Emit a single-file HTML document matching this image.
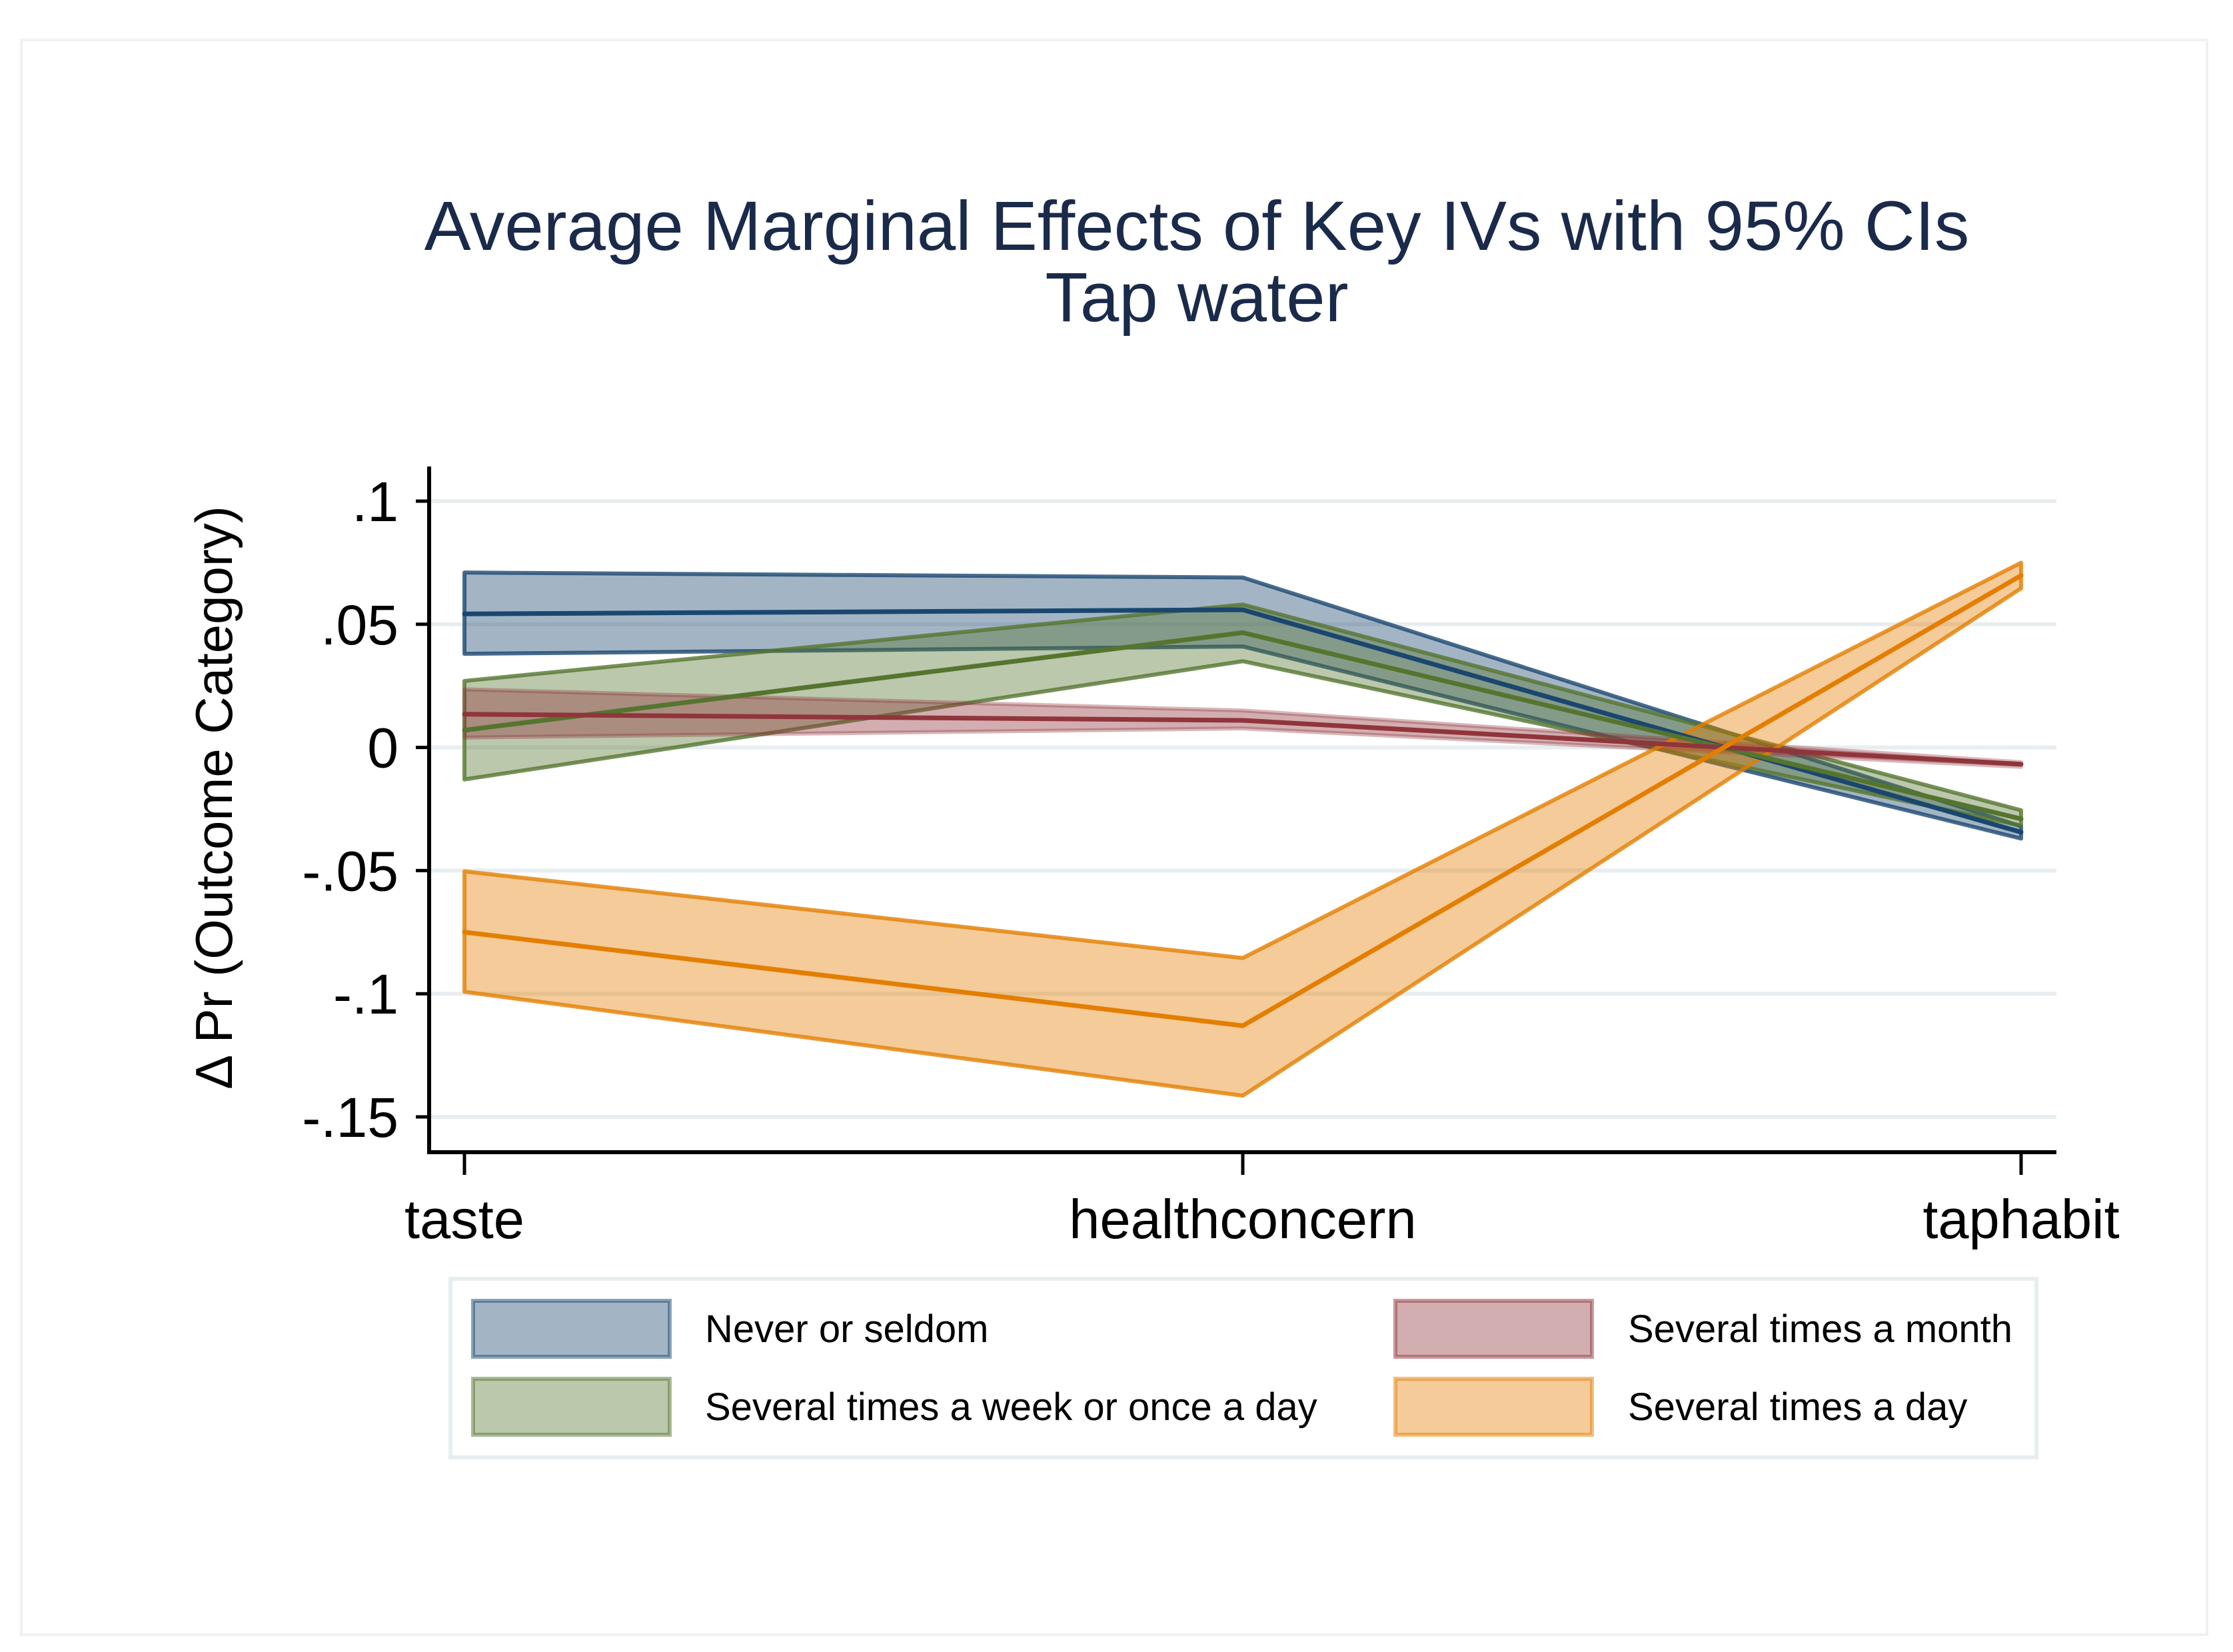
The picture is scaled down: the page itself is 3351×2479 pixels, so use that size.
<!DOCTYPE html>
<html><head><meta charset="utf-8"><style>
html,body{margin:0;padding:0;background:#fff;}
svg{display:block;font-family:"Liberation Sans",Arial,sans-serif;}
</style></head><body>
<svg id="chart" width="3351" height="2479" viewBox="0 0 3351 2479" xmlns="http://www.w3.org/2000/svg">
<rect x="0" y="0" width="3351" height="2479" fill="#fff"/>
<rect x="32" y="60" width="3280" height="2393" fill="none" stroke="#eef2f2" stroke-width="4"/>
<text x="1796" y="375" text-anchor="middle" font-size="105" fill="#1a2a4a">Average Marginal Effects of Key IVs with 95% CIs</text>
<text x="1796" y="482" text-anchor="middle" font-size="105" fill="#1a2a4a">Tap water</text>
<text transform="translate(348,1197) rotate(-90)" text-anchor="middle" font-size="78" fill="#000">Δ  Pr (Outcome Category)</text>
<g id="grid"></g><g id="bands"></g><g id="axes"></g>
<g>
<rect x="676" y="1919" width="2380" height="268" fill="#fff" stroke="#e8eef0" stroke-width="6"/>
<g id="legend-items"></g>
</g>
</svg>
<script>
const categories = ["taste","healthconcern","taphabit"];
const yTicks = [0.1,0.05,0,-0.05,-0.1,-0.15];
const yTickLabels = [".1",".05","0","-.05","-.1","-.15"];
const seriesNames = ["Never or seldom","Several times a month","Several times a week or once a day","Several times a day"];
const seriesColors = ["#1a476f","#90353b","#55752f","#e37e00"];
const neverMean = [0.0542,0.0559,-0.0344];
const neverLo = [0.038,0.041,-0.037];
const neverHi = [0.071,0.069,-0.032];
const monthMean = [0.0135,0.011,-0.0068];
const monthLo = [0.004,0.0077,-0.0079];
const monthHi = [0.0236,0.015,-0.006];
const weekMean = [0.007,0.0466,-0.029];
const weekLo = [-0.013,0.035,-0.0317];
const weekHi = [0.027,0.058,-0.0255];
const dayMean = [-0.075,-0.113,0.0698];
const dayLo = [-0.0992,-0.1414,0.0646];
const dayHi = [-0.0503,-0.0855,0.075];

const NS="http://www.w3.org/2000/svg";
const X0=644, X1=3086, Y0=700, Y1=1729;
const XA=697, XB=3033;
function xs(i){return XA+(XB-XA)*i/(categories.length-1);}
function ys(v){return 1121.6-v*3696;}
function mk(tag,attrs,parent){const e=document.createElementNS(NS,tag);for(const k in attrs)e.setAttribute(k,attrs[k]);parent.appendChild(e);return e;}
const grid=document.getElementById('grid'), axes=document.getElementById('axes'), bands=document.getElementById('bands');
yTicks.forEach((t,i)=>{
  const g=mk('line',{x1:X0,x2:X1,y1:ys(t),y2:ys(t),stroke:'#e8eef0','stroke-width':6},grid);
  
  
  const tk=mk('line',{x1:X0-20,x2:X0,y1:ys(t),y2:ys(t),stroke:'#000','stroke-width':5},axes);
  
  
  const tx=mk('text',{x:X0-46,y:ys(t)+30,'text-anchor':'end','font-size':84,fill:'#000'},axes);
  tx.textContent=yTickLabels[i];
  
  
});
const ya=mk('line',{x1:X0,x2:X0,y1:Y0,y2:Y1+3,stroke:'#000','stroke-width':6},axes);


const xa=mk('line',{x1:X0-3,x2:X1,y1:Y1,y2:Y1,stroke:'#000','stroke-width':6},axes);


categories.forEach((c,i)=>{
  const tk=mk('line',{x1:xs(i),x2:xs(i),y1:Y1,y2:Y1+34,stroke:'#000','stroke-width':5},axes);
  
  
  const tx=mk('text',{x:xs(i),y:1858,'text-anchor':'middle','font-size':83,fill:'#000'},axes);
  tx.textContent=c;
  
  
});
const series=[[neverMean,neverLo,neverHi],[monthMean,monthLo,monthHi],[weekMean,weekLo,weekHi],[dayMean,dayLo,dayHi]];
const order=[0,2,1,3];
order.forEach(s=>{
  const [m,lo,hi]=series[s]; const col=seriesColors[s];
  let pts=hi.map((v,i)=>xs(i)+','+ys(v));
  pts=pts.concat(lo.map((v,i)=>xs(i)+','+ys(v)).reverse());
  const band=mk('polygon',{points:pts.join(' '),fill:col,'fill-opacity':0.4,stroke:col,'stroke-opacity':s==1?0.35:0.8,'stroke-width':6,'stroke-linejoin':'round'},bands);
  
  
});
order.forEach(s=>{
  const [m]=series[s]; const col=seriesColors[s];
  const ln=mk('polyline',{points:m.map((v,i)=>xs(i)+','+ys(v)).join(' '),fill:'none',stroke:col,'stroke-width':7,'stroke-linejoin':'round','stroke-linecap':'round'},bands);
  
  
});
const li=document.getElementById('legend-items');
const lx=[710,2094], ly=[1952,2069], tx=[1058,2443];
seriesNames.forEach((n,i)=>{
  const c=i%2, r=Math.floor(i/2);
  const sw=mk('rect',{x:lx[c],y:ly[r],width:295,height:84,fill:seriesColors[i],'fill-opacity':0.4,stroke:seriesColors[i],'stroke-opacity':0.5,'stroke-width':6},li);
  
  
  const t=mk('text',{x:tx[c],y:ly[r]+62,'font-size':58,fill:'#000'},li);
  t.textContent=n;
  
  
});
</script>
</body></html>
